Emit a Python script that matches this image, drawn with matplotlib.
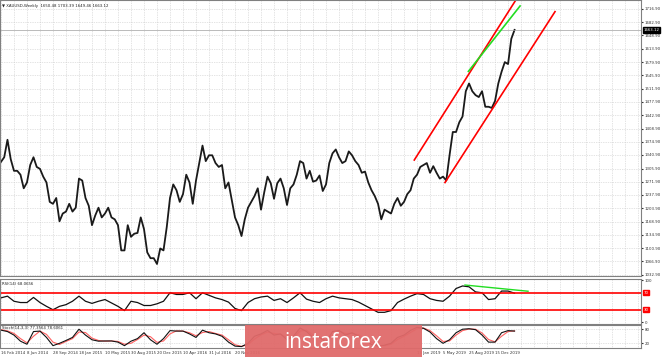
import numpy as np
import matplotlib.pyplot as plt
from matplotlib.patches import Rectangle
from matplotlib.transforms import blended_transform_factory

# XAUUSD weekly, one close every 2 weeks starting 16 Feb 2014
close_2014 = [1323, 1335, 1380, 1330, 1300, 1300, 1290, 1255, 1270, 1315, 1335, 1310,
              1305, 1285, 1270, 1220, 1215, 1230, 1170, 1190, 1195, 1215, 1195]
close_2015 = [1205, 1280, 1275, 1230, 1210, 1160, 1185, 1205, 1180, 1190, 1205, 1180,
              1175, 1160, 1095, 1095, 1160, 1130, 1138, 1140, 1180, 1150, 1090, 1075,
              1075, 1060]
close_2016 = [1100, 1095, 1155, 1230, 1265, 1250, 1220, 1240, 1290, 1270, 1215, 1275,
              1320, 1365, 1325, 1340, 1340, 1320, 1310, 1315, 1255, 1270, 1225, 1180,
              1160, 1132]
close_2017 = [1175, 1205, 1220, 1235, 1255, 1200, 1245, 1285, 1268, 1228, 1268, 1280,
              1255, 1212, 1255, 1265, 1290, 1325, 1320, 1280, 1300, 1272, 1275, 1288,
              1248, 1265]
close_2018 = [1320, 1345, 1355, 1335, 1320, 1325, 1350, 1340, 1325, 1315, 1295, 1298,
              1270, 1250, 1235, 1215, 1175, 1200, 1195, 1190, 1215, 1230, 1210, 1220,
              1240, 1250, 1280]
close_2019 = [1290, 1310, 1315, 1320, 1295, 1312, 1295, 1280, 1285, 1275, 1340, 1400,
              1400, 1425, 1440, 1505, 1525, 1505, 1495, 1490, 1505, 1465, 1465, 1462,
              1480, 1525]
close_2020 = [1555, 1580, 1575, 1640, 1663]
closes = close_2014 + close_2015 + close_2016 + close_2017 + close_2018 + close_2019 + close_2020
close_weeks = np.arange(len(closes)) * 2

# RSI(14), one value every 4 weeks
rsi = [58, 62, 50, 47, 47, 59, 47, 38, 30, 38, 42, 50, 62, 50, 45, 50, 54, 46, 38, 28,
       50, 47, 40, 40, 44, 50, 70, 66, 66, 70, 56, 70, 64, 58, 54, 48, 33, 28, 47, 56,
       60, 62, 52, 56, 47, 58, 70, 55, 50, 47, 56, 62, 58, 56, 54, 48, 40, 32, 24, 24,
       28, 47, 55, 62, 68, 66, 56, 52, 50, 62, 80, 86, 84, 72, 70, 54, 56, 74, 74, 69]
rsi_weeks = np.arange(len(rsi)) * 4

# Stochastic(14,3,3) main and signal, every 4 weeks
stoch_k = [76, 70, 55, 29, 16, 70, 72, 45, 10, 20, 32, 45, 80, 55, 35, 29, 30, 30, 25, 10,
           29, 40, 65, 35, 16, 40, 74, 72, 72, 60, 45, 76, 65, 60, 50, 25, 8, 6, 20, 50,
           60, 75, 55, 60, 35, 50, 85, 70, 45, 45, 25, 70, 75, 55, 65, 50, 35, 15, 8, 12,
           20, 45, 55, 75, 88, 84, 68, 40, 20, 35, 65, 80, 82, 78, 55, 25, 25, 65, 74, 72]
stoch_d = [78, 73, 62, 40, 22, 50, 72, 58, 25, 15, 28, 40, 68, 66, 42, 32, 29, 30, 28, 16,
           20, 36, 55, 48, 24, 30, 60, 73, 72, 65, 52, 66, 70, 62, 55, 35, 14, 7, 14, 38,
           56, 68, 62, 58, 45, 45, 72, 76, 55, 46, 33, 55, 72, 62, 62, 56, 42, 24, 12, 10,
           16, 36, 50, 66, 82, 85, 74, 52, 28, 30, 55, 74, 81, 80, 64, 36, 26, 50, 70, 73]
stoch_weeks = np.arange(len(stoch_k)) * 4

# price axis labels
price_ticks = [1716.90, 1682.90, 1648.90, 1613.90, 1579.90, 1545.90, 1511.90, 1477.90,
               1442.90, 1408.90, 1374.90, 1340.90, 1305.90, 1271.90, 1237.90, 1203.90,
               1168.90, 1134.90, 1100.90, 1066.90, 1032.90]
last_price = 1663.12

# date labels (the ones under the watermark are not visible in the original)
date_weeks = [0, 16, 32, 48, 64, 80, 96, 112, 128, 144, 256, 272, 288, 304]
date_labels = ["16 Feb 2014", "8 Jun 2014", "28 Sep 2014", "18 Jan 2015", "10 May 2015",
               "30 Aug 2015", "20 Dec 2015", "10 Apr 2016", "31 Jul 2016", "20 Nov 2016",
               "13 Jan 2019", "5 May 2019", "25 Aug 2019", "15 Dec 2019"]

# trend lines drawn on the chart (week, value)
upper_channel = ([254.3, 318.0], [1327.8, 1748.0])
lower_channel = ([273.2, 340.9], [1269.8, 1710.0])
green_price = ([287.6, 319.4], [1556.1, 1724.6])
green_rsi = ([285.5, 324.3], [88.2, 73.6])

XMIN, XMAX = -0.6, 393.8
GRID = dict(color="#c8c8c8", linestyle=(0, (1, 1.5)), linewidth=0.5)
FS = 2.8

fig = plt.figure(figsize=(6.65, 3.57), dpi=100)
ax = fig.add_axes([0, 0.2255, 0.9639, 0.7745])
ax_rsi = fig.add_axes([0, 0.0938, 0.9639, 0.126])
ax_st = fig.add_axes([0, 0.0252, 0.9639, 0.0658])

for a in (ax, ax_rsi, ax_st):
    a.set_xlim(XMIN, XMAX)
    a.set_xticks([])
    a.set_xticks(np.arange(0, 394, 8), minor=True)
    a.grid(True, which="minor", axis="x", **GRID)
    for s in a.spines.values():
        s.set_color("#808080")
        s.set_linewidth(0.8)
    a.yaxis.tick_right()
    a.tick_params(axis="y", labelsize=FS, length=1.5, pad=1, colors="#333333")
    a.tick_params(axis="x", which="both", length=0)

# main price panel
ax.set_ylim(1027.8, 1740.0)
ax.set_yticks(price_ticks)
ax.set_yticklabels([f"{p:.2f}" for p in price_ticks])
ax.grid(True, which="major", axis="y", **GRID)
ax.plot(close_weeks, closes, color="#1a1a1a", linewidth=1.3)
ax.axhline(last_price, color="#a0a0a0", linewidth=0.5)
ax.plot(*upper_channel, color="red", linewidth=1.2)
ax.plot(*lower_channel, color="red", linewidth=1.2)
ax.plot(*green_price, color="#22dd22", linewidth=1.2)
tr = blended_transform_factory(ax.transAxes, ax.transData)
ax.text(1.004, last_price, f"{last_price:.2f}", transform=tr, fontsize=FS, color="white",
        va="center", ha="left",
        bbox=dict(facecolor="black", edgecolor="black", pad=0.6), clip_on=False)
ax.text(0.003, 0.985, "\u25bc XAUUSD,Weekly  1650.48 1703.39 1649.46 1663.12",
        transform=ax.transAxes, fontsize=FS, va="top", ha="left", color="#222222")

# RSI panel
ax_rsi.set_ylim(-2.4, 103.5)
ax_rsi.set_yticks([100, 0])
ax_rsi.set_yticklabels(["100", "0"])
ax_rsi.plot(rsi_weeks, rsi, color="#111111", linewidth=0.9)
ax_rsi.axhline(70, color="red", linewidth=1.2)
ax_rsi.axhline(30, color="red", linewidth=1.2)
ax_rsi.plot(*green_rsi, color="#22dd22", linewidth=1.0)
tr_rsi = blended_transform_factory(ax_rsi.transAxes, ax_rsi.transData)
for lvl in (70, 30):
    ax_rsi.text(1.004, lvl, str(lvl), transform=tr_rsi, fontsize=FS, color="white",
                va="center", ha="left",
                bbox=dict(facecolor="red", edgecolor="red", pad=0.5), clip_on=False)
ax_rsi.text(0.003, 0.93, "RSI(14) 68.0656", transform=ax_rsi.transAxes,
            fontsize=FS, va="top", ha="left", color="#222222")

# Stochastic panel
ax_st.set_ylim(0, 100)
ax_st.set_yticks([80, 20])
ax_st.set_yticklabels(["80", "20"])
ax_st.grid(True, which="major", axis="y", **GRID)
ax_st.plot(stoch_weeks, stoch_d, color="#ff6060", linewidth=0.8)
ax_st.plot(stoch_weeks, stoch_k, color="#111111", linewidth=0.8)
ax_st.text(0.003, 0.95, "Stoch(14,3,3) 77.3564 78.6061", transform=ax_st.transAxes,
           fontsize=FS, va="top", ha="left", color="#222222")
ax_st.set_xticks(date_weeks)
ax_st.set_xticklabels(date_labels, fontsize=FS, ha="left", color="#333333")
ax_st.tick_params(axis="x", which="major", length=0, pad=2)

# watermark
fig.add_artist(Rectangle((245 / 665, 0), 177 / 665, 32 / 357, transform=fig.transFigure,
                         facecolor="#e06a6a", edgecolor="none", alpha=0.95))
fig.text(333.5 / 665, 14 / 357, "instaforex", color="white", fontsize=15,
         family="Open Sans", ha="center", va="center")

fig.savefig("out.png", dpi=100)
